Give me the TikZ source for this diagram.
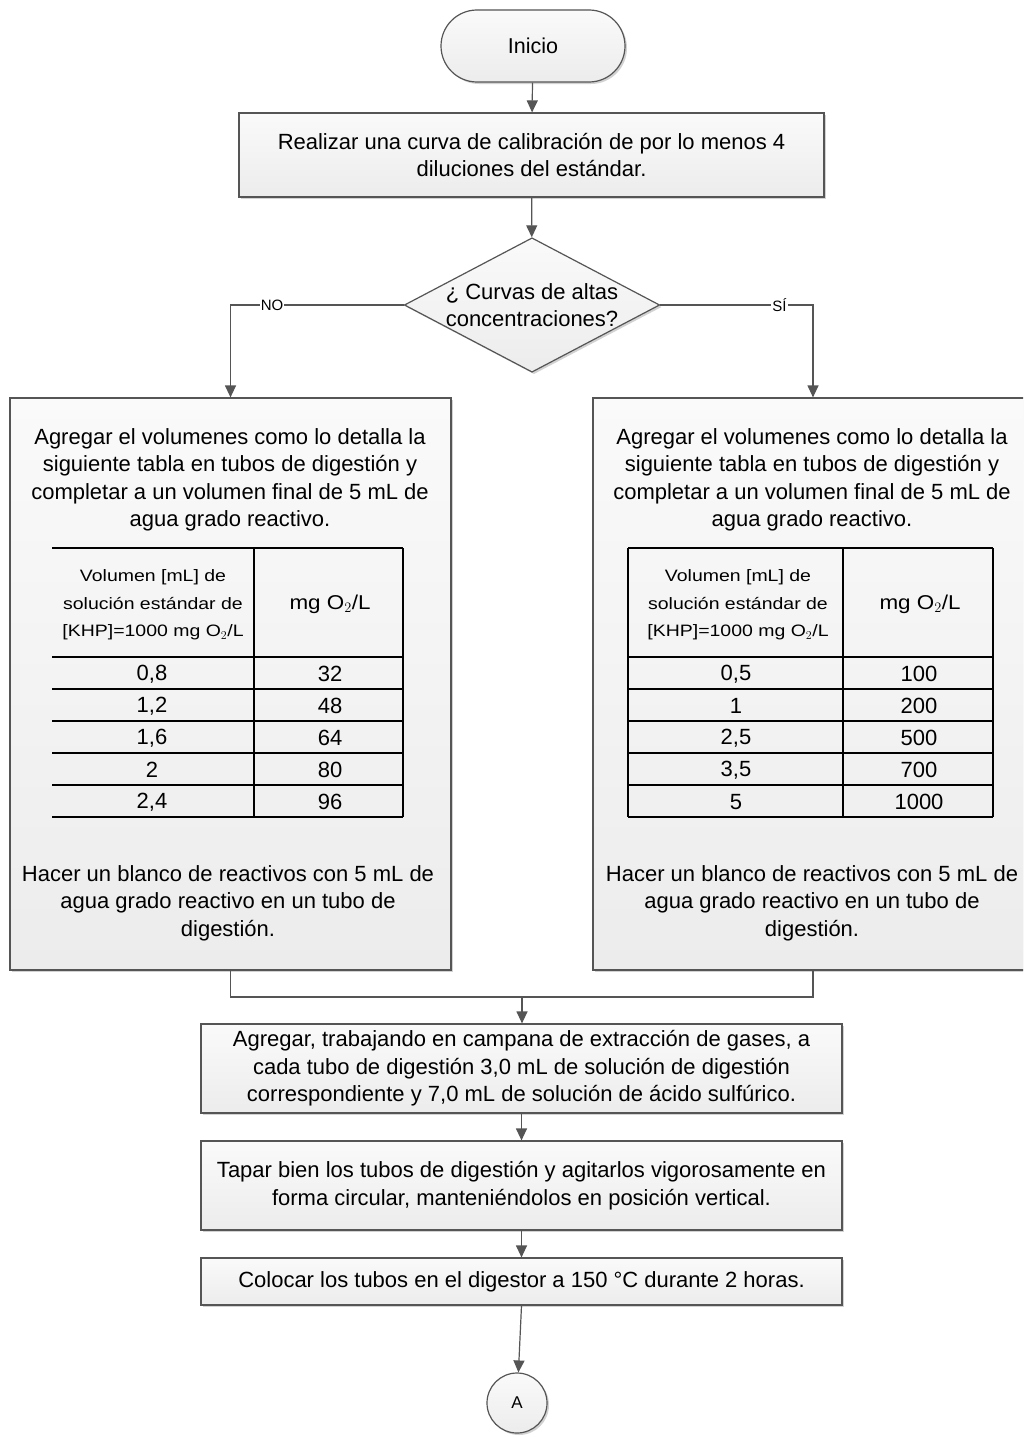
\documentclass[tikz,border=0pt]{standalone}
\usepackage{fontspec}
\setmainfont{Liberation Sans}
\newfontfamily\hfont[FakeStretch=1.18]{Liberation Sans}
\newfontfamily\mfont[FakeStretch=1.12]{Liberation Sans}
\usetikzlibrary{arrows.meta,shapes.geometric,shadows}
\definecolor{linec}{HTML}{555555}
\definecolor{boxtop}{HTML}{FAFAFA}
\definecolor{boxbot}{HTML}{ECECEC}
\tikzset{
  base/.style={draw=linec,line width=1.2pt,top color=boxtop,bottom color=boxbot,
    drop shadow={shadow xshift=2pt,shadow yshift=-2pt,opacity=0.35},
    font=\fontsize{22}{27.5}\selectfont,align=center,inner sep=0pt},
  procbox/.style={base,rectangle},
  conn/.style={draw=linec,line width=1.2pt},
  arr/.style={conn,-{Triangle[length=12pt,width=11pt]}},
  txt/.style={font=\fontsize{22}{27.5}\selectfont,align=center,inner sep=0pt},
  cell/.style={font=\fontsize{22}{24}\selectfont,inner sep=0pt},
  mcell/.style={font=\mfont\fontsize{20}{24}\selectfont,inner sep=0pt},
  head/.style={font=\hfont\fontsize{16.5}{27.5}\selectfont,align=center,inner sep=0pt},
  tline/.style={draw=black,line width=1.3pt},
  lbl/.style={fill=white,font=\fontsize{15}{17}\selectfont,inner sep=1pt}
}
\begin{document}
\begin{tikzpicture}[x=1pt,y=-1pt]
\useasboundingbox (0,0) rectangle (1023,1437);
\clip (0,0) rectangle (1023,1437);
\fill[white] (0,0) rectangle (1023,1437);
% start
\node[base,rectangle,rounded corners=36pt,minimum width=184pt,minimum height=72pt,font=\fontsize{21.5}{24}\selectfont] (ini) at (533,46) {Inicio};
\node[procbox,minimum width=585pt,minimum height=84pt] (b1) at (531.5,155) {Realizar una curva de calibración de por lo menos 4\\diluciones del estándar.};
\node[base,diamond,aspect=1.9,minimum width=250pt,minimum height=132pt] (dec) at (532,305) {¿ Curvas de altas\\concentraciones?};
% side boxes
\node[procbox,minimum width=441pt,minimum height=572pt] (L) at (230.5,684) {};
\node[procbox,minimum width=440pt,minimum height=572pt] (R) at (813,684) {};
% texts
\node[txt] (Lt) at (230,480) {Agregar el volumenes como lo detalla la\\siguiente tabla en tubos de digestión y\\completar a un volumen final de 5 mL de\\agua grado reactivo.};
\node[txt] (Lb) at (228,903) {Hacer un blanco de reactivos con 5 mL de\\agua grado reactivo en un tubo de\\digestión.};
\node[txt] (Rt) at (812,480) {Agregar el volumenes como lo detalla la\\siguiente tabla en tubos de digestión y\\completar a un volumen final de 5 mL de\\agua grado reactivo.};
\node[txt] (Rb) at (812,903) {Hacer un blanco de reactivos con 5 mL de\\agua grado reactivo en un tubo de\\digestión.};
% left table
\foreach \yy in {548,657,689,721,753,785,817} \draw[tline] (52,\yy) -- (403,\yy);
\draw[tline] (254,548) -- (254,817);
\draw[tline] (403,548) -- (403,817);
\node[head] (Lh1) at (153,605) {Volumen [mL] de\\solución estándar de\\{}[KHP]=1000 mg O$_2$/L};
\node[mcell] (Lh2) at (330,604) {mg O$_2$/L};
% right table
\foreach \yy in {548,657,689,721,753,785,817} \draw[tline] (628,\yy) -- (993,\yy);
\draw[tline] (628,548) -- (628,817);
\draw[tline] (843,548) -- (843,817);
\draw[tline] (993,548) -- (993,817);
\node[head] (Rh1) at (738,605) {Volumen [mL] de\\solución estándar de\\{}[KHP]=1000 mg O$_2$/L};
\node[mcell] (Rh2) at (920,604) {mg O$_2$/L};
% rows
\node[cell] (l11) at (152,674) {0,8}; \node[cell] (l12) at (330,674) {32};
\node[cell] (l21) at (152,706) {1,2}; \node[cell] (l22) at (330,706) {48};
\node[cell] (l31) at (152,738) {1,6}; \node[cell] (l32) at (330,738) {64};
\node[cell] (l41) at (152,770) {2};   \node[cell] (l42) at (330,770) {80};
\node[cell] (l51) at (152,802) {2,4}; \node[cell] (l52) at (330,802) {96};
\node[cell] (r11) at (736,674) {0,5}; \node[cell] (r12) at (919,674) {100};
\node[cell] (r21) at (736,706) {1};   \node[cell] (r22) at (919,706) {200};
\node[cell] (r31) at (736,738) {2,5}; \node[cell] (r32) at (919,738) {500};
\node[cell] (r41) at (736,770) {3,5}; \node[cell] (r42) at (919,770) {700};
\node[cell] (r51) at (736,802) {5};   \node[cell] (r52) at (919,802) {1000};
% lower boxes
\node[procbox,minimum width=641pt,minimum height=89pt] (b3) at (521.5,1068.5) {Agregar, trabajando en campana de extracción de gases, a\\cada tubo de digestión 3,0 mL de solución de digestión\\correspondiente y 7,0 mL de solución de ácido sulfúrico.};
\node[procbox,minimum width=641pt,minimum height=89pt] (b4) at (521.5,1185.5) {Tapar bien los tubos de digestión y agitarlos vigorosamente en\\forma circular, manteniéndolos en posición vertical.};
\node[procbox,minimum width=641pt,minimum height=47pt] (b5) at (521.5,1281.5) {Colocar los tubos en el digestor a 150 °C durante 2 horas.};
\node[base,circle,minimum size=60pt,font=\fontsize{17}{19}\selectfont] (A) at (517,1403) {A};
% connectors
\draw[arr] (ini) -- (b1);
\draw[arr] (b1) -- (dec);
\draw[arr] (dec.west) -| node[lbl,pos=0.38] {NO} (L.north);
\draw[arr] (dec.east) -| node[lbl,pos=0.39] {SÍ} (R.north);
\coordinate (m) at (522,997);
\draw[conn] (L.south) |- (m) -| (R.south);
\draw[arr] (m) -- (b3.north -| m);
\draw[arr] (b3) -- (b4);
\draw[arr] (b4) -- (b5);
\draw[arr] (b5.south) -- (A);
\end{tikzpicture}
\end{document}
